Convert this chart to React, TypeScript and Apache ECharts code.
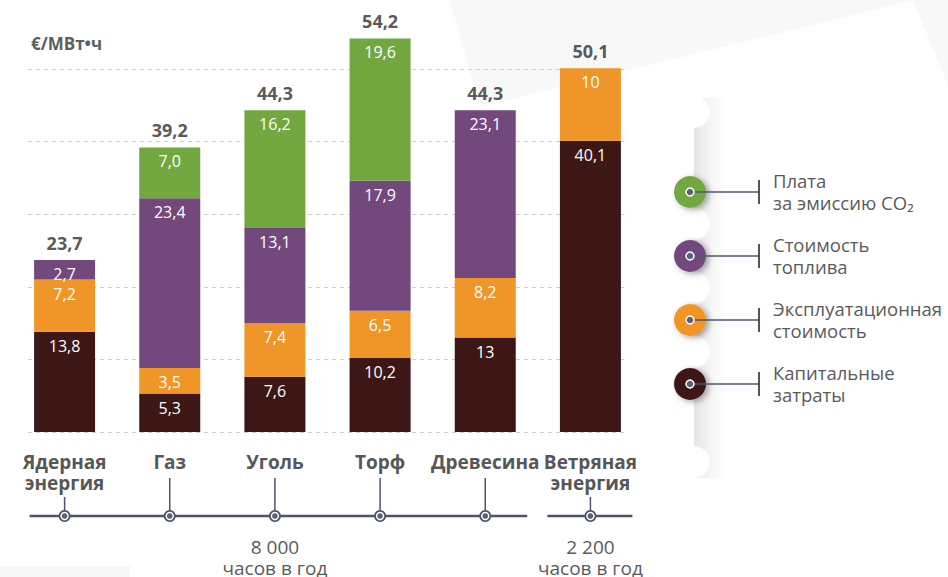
import React, { useEffect, useRef } from 'react';
import * as echarts from 'echarts';

const categories = ['Ядерная\nэнергия', 'Газ', 'Уголь', 'Торф', 'Древесина', 'Ветряная\nэнергия'];
const seriesNames = ['Капитальные\nзатраты', 'Эксплуатационная\nстоимость', 'Стоимость\nтоплива', 'Плата\nза эмиссию CO₂'];
const seriesColors = ['#3c1715', '#f09527', '#72487d', '#72a83f'];
// values bottom to top (as printed in the picture)
const capitalCost: (string | null)[] = ['13.8', '5.3', '7.6', '10.2', '13', '40.1'];
const operatingCost: (string | null)[] = ['7.2', '3.5', '7.4', '6.5', '8.2', '10'];
const fuelCost: (string | null)[] = ['2.7', '23.4', '13.1', '17.9', '23.1', null];
const co2Cost: (string | null)[] = [null, '7.0', '16.2', '19.6', null, null];
const hoursGroups = [
  { first: 0, last: 4, labelAt: 2, hours: '8 000' },
  { first: 5, last: 5, labelAt: 5, hours: '2 200' },
];
const hoursUnit = 'часов в год';
const unitLabel = '€/МВт•ч';
const yMax = 59.5;
const yInterval = 10;

const FONT = '"Open Sans", "Noto Sans", sans-serif';
const GREY = '#5a5a5a';
const SLATE = '#505468';

export default function App() {
  const ref = useRef<HTMLDivElement>(null);

  useEffect(() => {
    if (!ref.current) return;
    const chart = echarts.init(ref.current, undefined, { renderer: 'svg' });
    const stacks = [capitalCost, operatingCost, fuelCost, co2Cost];
    const totals = categories.map((_, i) =>
      stacks.reduce((s, arr) => s + (arr[i] != null ? parseFloat(arr[i] as string) : 0), 0)
    );

    const barSeries: any[] = stacks.map((arr, k) => ({
      type: 'bar',
      name: seriesNames[k],
      stack: 'cost',
      xAxisIndex: 0,
      yAxisIndex: 0,
      barWidth: 61,
      itemStyle: { color: seriesColors[k] },
      label: {
        show: true,
        position: 'insideTop',
        distance: 6,
        color: '#ffffff',
        fontSize: 16,
        fontFamily: FONT,
        formatter: (p: any) => (arr[p.dataIndex] as string).replace('.', ','),
      },
      data: arr.map((v) => (v == null ? null : parseFloat(v))),
    }));

    barSeries.push({
      type: 'bar',
      name: 'total',
      stack: 'cost',
      xAxisIndex: 0,
      yAxisIndex: 0,
      barWidth: 61,
      silent: true,
      itemStyle: { color: 'transparent' },
      label: {
        show: true,
        position: 'top',
        distance: 8,
        color: GREY,
        fontSize: 18,
        fontWeight: 'bold',
        fontFamily: FONT,
        formatter: (p: any) => totals[p.dataIndex].toFixed(1).replace('.', ','),
      },
      data: totals.map(() => 0),
    });

    chart.setOption({
      animation: false,
      grid: [
        { left: 12, width: 631, top: 0, bottom: 145 },
        { left: 28, width: 600, top: 0, bottom: 145 },
      ],
      xAxis: [
        {
          type: 'category',
          gridIndex: 0,
          data: categories,
          axisLine: { show: false },
          axisTick: { show: false },
          axisLabel: {
            margin: 19,
            fontSize: 19,
            fontWeight: 'bold',
            lineHeight: 21,
            color: '#575757',
            fontFamily: FONT,
            interval: 0,
          },
        },
        { type: 'value', gridIndex: 1, min: 0, max: 1, show: false },
      ],
      yAxis: [
        { type: 'value', gridIndex: 0, min: 0, max: yMax, interval: yInterval, show: false },
        {
          type: 'value',
          gridIndex: 1,
          min: 0,
          max: yMax,
          interval: yInterval,
          axisLine: { show: false },
          axisTick: { show: false },
          axisLabel: { show: false },
          splitLine: { show: true, showMaxLine: false, lineStyle: { color: '#cdcdcd', width: 1, type: [4, 4] } },
        },
      ],
      series: barSeries,
    });

    const xs = categories.map((_, i) => chart.convertToPixel({ xAxisIndex: 0 }, i) as number);
    const baseY = chart.convertToPixel({ yAxisIndex: 0 }, 0) as number;
    const lineY = baseY + 84;

    const elements: any[] = [];
    // faint background decorations
    elements.push({ type: 'polygon', z: -10, shape: { points: [[450, 0], [480, 107], [913, 0]] }, style: { fill: '#f8f8f8' } });
    elements.push({ type: 'polygon', z: -10, shape: { points: [[913, 0], [948, 0], [948, 85]] }, style: { fill: '#f8f8f8' } });
    elements.push({ type: 'rect', z: -10, shape: { x: 0, y: 566, width: 130, height: 11 }, style: { fill: '#f6f6f6' } });
    elements.push({
      type: 'rect', z: -9,
      shape: { x: 694, y: 98, width: 36, height: 380 },
      style: {
        fill: new echarts.graphic.LinearGradient(0, 0, 1, 0, [
          { offset: 0, color: 'rgba(205,205,205,0.55)' },
          { offset: 1, color: 'rgba(240,240,240,0)' },
        ]),
      },
    });
    [112, 224, 288, 352, 462].forEach((cy) => {
      elements.push({ type: 'circle', z: -8, shape: { cx: 694, cy, r: 16 }, style: { fill: '#ffffff' } });
    });

    // unit label
    elements.push({
      type: 'text', x: 31, y: 43,
      style: { text: unitLabel, fill: '#5e5e5e', fontSize: 17, fontWeight: 'bold', fontFamily: FONT, verticalAlign: 'middle' },
    });

    // timeline
    hoursGroups.forEach((g) => {
      const x0 = xs[g.first] - (g.first === 0 ? 35 : 43);
      const x1 = xs[g.last] + 42;
      elements.push({ type: 'line', shape: { x1: x0, y1: lineY, x2: x1, y2: lineY }, style: { stroke: SLATE, lineWidth: 2.5 } });
      elements.push({
        type: 'text', x: xs[g.labelAt], y: lineY + 20,
        style: {
          text: g.hours + '\n' + hoursUnit, fill: GREY, fontSize: 19, lineHeight: 21,
          fontFamily: FONT, align: 'center', verticalAlign: 'top',
        },
      });
    });
    categories.forEach((c, i) => {
      const lines = c.split('\n').length;
      const topY = baseY + 46 + (lines - 1) * 19;
      elements.push({ type: 'line', shape: { x1: xs[i], y1: topY, x2: xs[i], y2: lineY }, style: { stroke: SLATE, lineWidth: 1.5 } });
      elements.push({ type: 'circle', shape: { cx: xs[i], cy: lineY, r: 6 }, style: { fill: SLATE } });
      elements.push({ type: 'circle', shape: { cx: xs[i], cy: lineY, r: 4.2 }, style: { fill: '#ffffff' } });
      elements.push({ type: 'circle', shape: { cx: xs[i], cy: lineY, r: 2.8 }, style: { fill: '#5b5f77' } });
    });

    // legend
    for (let k = 3; k >= 0; k--) {
      const r = 3 - k;
      const cy = 192 + 64 * r;
      elements.push({
        type: 'circle', shape: { cx: 690, cy, r: 16 },
        style: { fill: seriesColors[k], shadowBlur: 6, shadowOffsetX: 3, shadowOffsetY: 2, shadowColor: 'rgba(0,0,0,0.35)' },
      });
      elements.push({ type: 'line', shape: { x1: 690, y1: cy, x2: 759, y2: cy }, style: { stroke: SLATE, lineWidth: 1.5 } });
      elements.push({ type: 'line', shape: { x1: 759, y1: cy - 12, x2: 759, y2: cy + 12 }, style: { stroke: SLATE, lineWidth: 2 } });
      elements.push({ type: 'circle', shape: { cx: 690, cy, r: 4 }, style: { fill: '#5b5f77', stroke: '#ffffff', lineWidth: 1.5 } });
      elements.push({
        type: 'text', x: 773, y: cy - 1,
        style: { text: seriesNames[k], fill: GREY, fontSize: 18.5, lineHeight: 22, fontFamily: FONT, verticalAlign: 'middle' },
      });
    }

    chart.setOption({ graphic: { elements } });

    return () => chart.dispose();
  }, []);

  return (
    <div
      ref={ref}
      style={{ position: 'absolute', left: 0, top: 0, width: 948, height: 577, background: '#ffffff' }}
    />
  );
}
